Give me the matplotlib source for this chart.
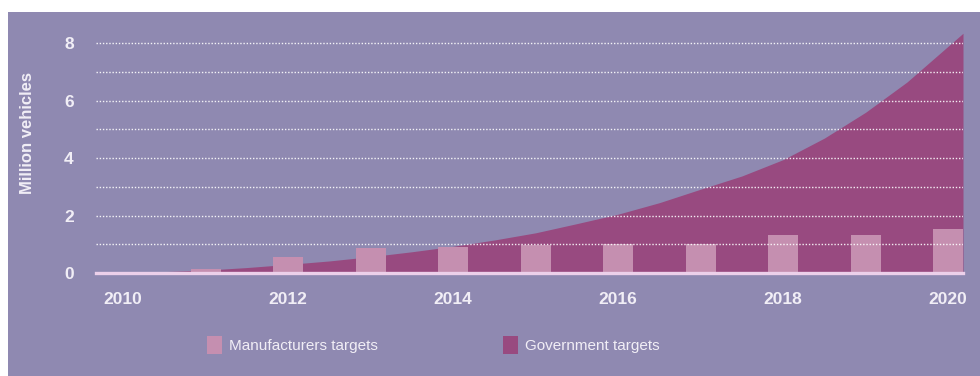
import matplotlib
matplotlib.use('Agg')
import matplotlib.pyplot as plt
from matplotlib.patches import Patch, Rectangle

# Data (million vehicles)
years = [2010, 2011, 2012, 2013, 2014, 2015, 2016, 2017, 2018, 2019, 2020]
manufacturers = [0.03, 0.15, 0.55, 0.86, 0.9, 0.96, 1.0, 1.0, 1.31, 1.31, 1.55]

gov_years = [2010.0, 2010.5, 2011.0, 2011.5, 2012.0, 2012.5, 2013.0, 2013.5,
             2014.0, 2014.5, 2015.0, 2015.5, 2016.0, 2016.5, 2017.0, 2017.5,
             2018.0, 2018.5, 2019.0, 2019.5, 2020.0, 2020.18]
government = [0.02, 0.05, 0.1, 0.19, 0.3, 0.42, 0.57, 0.74,
              0.93, 1.15, 1.4, 1.72, 2.05, 2.45, 2.92, 3.38,
              3.95, 4.7, 5.6, 6.65, 7.9, 8.35]

year_ticks = [2010, 2012, 2014, 2016, 2018, 2020]
value_ticks = [0, 2, 4, 6, 8]
grid_levels = [1, 2, 3, 4, 5, 6, 7, 8]

bg = '#8f89b1'
gov_color = '#984a80'
man_color = '#c58fb0'
text_color = '#f1eef6'
font = 'Liberation Sans'

fig = plt.figure(figsize=(9.8, 3.76), dpi=100)
fig.patch.set_facecolor('white')
fig.patches.append(Rectangle((8 / 980, 0), 1, 1 - 12 / 376, transform=fig.transFigure,
                             facecolor=bg, edgecolor='none', zorder=-10))

ax = fig.add_axes([96 / 980, 1 - 273 / 376, (963 - 96) / 980, 0.649])
ax.set_facecolor(bg)
ax.patch.set_alpha(0)

ax.fill_between(gov_years, government, 0, color=gov_color, linewidth=0, zorder=1)
ax.bar(years, manufacturers, width=0.36, color=man_color, linewidth=0, zorder=2)

# dotted white grid on top of everything
for g in grid_levels:
    ax.axhline(g, color='white', linestyle=(0, (1, 1.3)), linewidth=1.0, alpha=0.9, zorder=3)
ax.axhline(0, color='#ecd0ea', linewidth=2.4, zorder=4, clip_on=False)

ax.set_xlim(2009.67, 2020.18)
ax.set_ylim(0, 8.5)
for s in ax.spines.values():
    s.set_visible(False)

ax.set_xticks(year_ticks)
ax.set_xticklabels([str(y) for y in year_ticks])
ax.set_yticks(value_ticks)
ax.set_yticklabels([str(v) for v in value_ticks])
ax.tick_params(length=0, labelcolor=text_color)
for lab in ax.get_xticklabels() + ax.get_yticklabels():
    lab.set_fontfamily(font)
    lab.set_fontweight('bold')
    lab.set_fontsize(12.5)
ax.tick_params(axis='x', pad=14)
ax.tick_params(axis='y', pad=16)

fig.text(27 / 980, 1 - 133 / 376, 'Million vehicles', rotation=90, ha='center', va='center',
         color=text_color, fontsize=12, fontweight='bold', family=font)

handles = [Patch(facecolor=man_color, edgecolor='none', label='Manufacturers targets'),
           Patch(facecolor=gov_color, edgecolor='none', label='Government targets')]
leg = fig.legend(handles=handles, loc='center', bbox_to_anchor=(0.442, 0.082), ncol=2,
                 frameon=False, handlelength=1.0, handleheight=1.45, handletextpad=0.45,
                 columnspacing=8.2, prop={'family': font, 'size': 11})
for t in leg.get_texts():
    t.set_color(text_color)

fig.savefig('out.png', dpi=100, facecolor=fig.get_facecolor())
